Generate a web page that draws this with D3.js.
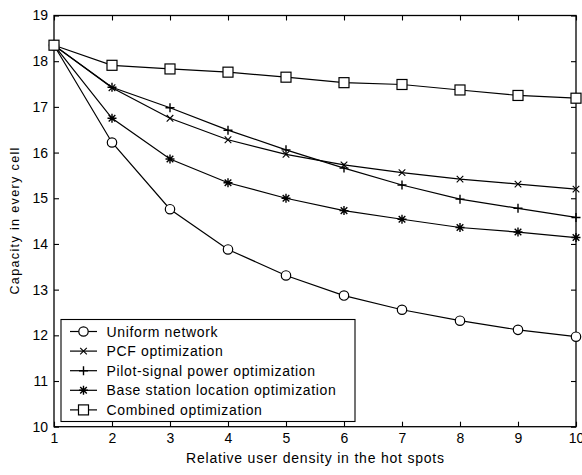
<!DOCTYPE html>
<html><head><meta charset="utf-8">
<script src="https://cdn.jsdelivr.net/npm/d3@7"></script>
<style>body{margin:0;background:#fff}svg{display:block}text{font-family:"Liberation Sans",Arial,sans-serif;fill:#000}</style>
</head><body><svg id="c" width="582" height="475"></svg>
<script>
const xValues = [1,2,3,4,5,6,7,8,9,10];
const uniform = [18.35,16.22,14.76,13.88,13.31,12.87,12.56,12.32,12.12,11.97];
const pcf = [18.35,17.42,16.75,16.28,15.96,15.73,15.56,15.42,15.31,15.20];
const pilot = [18.35,17.43,16.98,16.49,16.06,15.66,15.29,14.98,14.78,14.58];
const bsloc = [18.35,16.75,15.86,15.34,15.00,14.73,14.54,14.36,14.26,14.14];
const combined = [18.35,17.91,17.83,17.76,17.65,17.53,17.49,17.37,17.25,17.19];
const seriesNames = ["Uniform network","PCF optimization","Pilot-signal power optimization","Base station location optimization","Combined optimization"];
const markers = ["circle","x","plus","star","square"];
const xTicks = [1,2,3,4,5,6,7,8,9,10];
const yTicks = [10,11,12,13,14,15,16,17,18,19];

const series = [uniform,pcf,pilot,bsloc,combined];
const svg = d3.select("#c");
const L=54,R=576,T=15.5,B=426.7;
const x = d3.scaleLinear().domain([1,10]).range([L,R]);
const y = d3.scaleLinear().domain([10,19]).range([B,T]);

svg.append("rect").attr("x",L).attr("y",T).attr("width",R-L).attr("height",B-T).attr("fill","none").attr("stroke","#000").attr("stroke-width",1.3);

const tl=5;
const gx = svg.append("g").attr("transform",`translate(0,${B})`).call(d3.axisBottom(x).tickValues(xTicks).tickSize(-tl).tickPadding(6.3).tickFormat(d3.format("d")));
const gxt = svg.append("g").attr("transform",`translate(0,${T})`).call(d3.axisTop(x).tickValues(xTicks).tickSize(-tl).tickFormat(""));
const gy = svg.append("g").attr("transform",`translate(${L},0)`).call(d3.axisLeft(y).tickValues(yTicks).tickSize(-tl).tickPadding(6).tickFormat(d3.format("d")));
const gyr = svg.append("g").attr("transform",`translate(${R},0)`).call(d3.axisRight(y).tickValues(yTicks).tickSize(-tl).tickFormat(""));
[gx,gxt,gy,gyr].forEach(g=>{g.select(".domain").remove();g.selectAll("line").attr("stroke","#000").attr("stroke-width",1.1);g.selectAll("text").attr("font-size",14).attr("font-family","Liberation Sans, Arial, sans-serif").attr("fill","#000");});

function drawMarker(g,type,cx,cy){
  if(type==="circle") g.append("circle").attr("cx",cx).attr("cy",cy).attr("r",4.7).attr("fill","#fff").attr("stroke","#000").attr("stroke-width",1.2);
  else if(type==="square") g.append("rect").attr("x",cx-5).attr("y",cy-5).attr("width",10).attr("height",10).attr("fill","#fff").attr("stroke","#000").attr("stroke-width",1.2);
  else {
    let p="";
    const s=4.5, d=3.3;
    if(type==="x") p=`M${cx-3.3},${cy-3.3}L${cx+3.3},${cy+3.3}M${cx-3.3},${cy+3.3}L${cx+3.3},${cy-3.3}`;
    if(type==="plus") p=`M${cx-s},${cy}L${cx+s},${cy}M${cx},${cy-s}L${cx},${cy+s}`;
    if(type==="star") p=`M${cx-s},${cy}L${cx+s},${cy}M${cx},${cy-s}L${cx},${cy+s}M${cx-d},${cy-d}L${cx+d},${cy+d}M${cx-d},${cy+d}L${cx+d},${cy-d}`;
    g.append("path").attr("d",p).attr("stroke","#000").attr("stroke-width",type==="x"?1.1:1.4).attr("fill","none");
  }
}

const line = d3.line().x((d,i)=>x(xValues[i])).y(d=>y(d));
series.forEach((s,k)=>{
  const g = svg.append("g");
  g.append("path").datum(s).attr("d",line).attr("fill","none").attr("stroke","#000").attr("stroke-width",1.2);
  s.forEach((v,i)=>drawMarker(g,markers[k],x(xValues[i]),y(v)));
});

// legend
const lg = svg.append("g");
lg.append("rect").attr("x",61).attr("y",319.5).attr("width",294).attr("height",102).attr("fill","#fff").attr("stroke","#000").attr("stroke-width",1.1);
seriesNames.forEach((n,k)=>{
  const yy = 331.5 + k*19.6;
  lg.append("line").attr("x1",70).attr("x2",97).attr("y1",yy).attr("y2",yy).attr("stroke","#000").attr("stroke-width",1.2);
  drawMarker(lg,markers[k],83.5,yy);
  lg.append("text").attr("x",106.5).attr("y",yy+5).attr("font-size",14).attr("letter-spacing",0.65).text(n);
});

svg.append("text").attr("x",(L+R)/2).attr("y",462.5).attr("text-anchor","middle").attr("font-size",14)
  .attr("textLength",258).attr("lengthAdjust","spacing").text("Relative user density in the hot spots");
svg.append("text").attr("transform",`translate(18.5,${(T+B)/2}) rotate(-90)`).attr("text-anchor","middle").attr("font-size",12.5)
  .attr("textLength",147).attr("lengthAdjust","spacing").text("Capacity in every cell");
</script></body></html>
